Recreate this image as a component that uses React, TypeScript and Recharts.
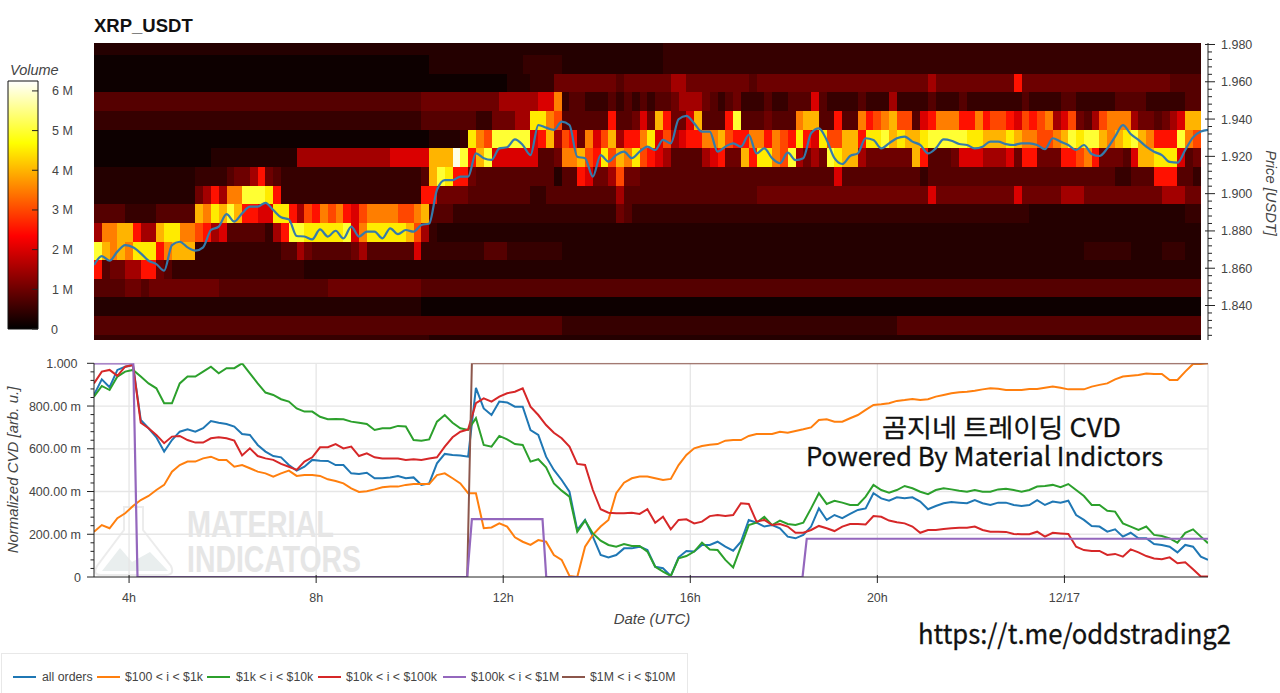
import {
  Bar,
  BarChart,
  CartesianGrid,
  ComposedChart,
  Line,
  ReferenceArea,
  XAxis,
  YAxis,
} from "recharts";

const FONT = '"Liberation Sans", Arial, sans-serif';
const CJK = '"Noto Sans CJK KR", "Noto Sans", sans-serif';

// one char per 10 minute bin, see volumeLevels (in millions)
const volumeLevels: Record<string, number> = {
  "0": 0.12, "1": 0.33, "2": 0.5, "3": 0.78, "4": 1.0, "5": 1.5, "6": 2.0,
  "7": 2.5, "8": 3.0, "9": 3.5, a: 4.0, b: 4.5, c: 5.0, d: 6.1,
};

// top row first
const heatRows = [
  "1111111111 1111111111 1111111111 1111111111 1111111111 1111111111 1111111111 1112222222 2222222222 2222222222 2222222222 2222222222 2222222222 2222222222 22",
  "0000000000 0000000000 0000000000 0000000000 0001111111 1111122222 1111111111 1112222222 2222222222 2222222222 2222222222 2222222222 2222222222 2222222222 22",
  "0000000000 0000000000 0000000000 0000000000 0000000000 0001112224 4444444344 4444554444 4444344444 4444444444 4444444544 4444444474 4444444444 4444444433 33",
  "3333333333 3333333333 3333333333 3333333333 3344444444 4455555669 2332223232 3233455543 2342223223 3363222232 2252222322 2322222223 2222332222 2333322222 33",
  "2222222222 2222222222 2222222222 2222222222 2233333332 244455bb98 3333337334 64a7446a33 37c3334333 9aa3373397 89a8836799 9779788768 7895684358 9995443456 aa",
  "0000000000 0000000000 0000000000 0000000000 00011112b9 8ccccc67a5 874968a577 9b68567799 a877997987 b76b88aa7b bcabaabccc ccbbaaaba9 9889acbcca 9abca9777c 98",
  "0000000000 0000011111 1111115555 5555555566 666aaadc7a c666666334 99a87b8a9b 8765333356 744a7bb98c 5454cbaa54 44444a7333 4666555647 7444778974 4436aabbb6 34",
  "1111111111 1112222344 5743222222 2222222222 223acb7743 3333333331 3376445844 3333333333 3333333333 3333363333 3333332333 3333333333 3333333333 3223337773 32",
  "1111111111 111457599c ccb7222222 2222222222 2277444433 3333332233 3333333533 3333333333 3333344444 4444444444 4444444644 4444444464 4444555444 4444444555 44",
  "3333222233 333a9baca7 766bb75879 8976899998 89a3332222 2222222222 2222222432 2222222222 2222222222 2222222222 2222222222 2222222222 1111111111 1111111111 22",
  "599aa755ab b998756333 33257ccbbb bbc69bbbbb a852111111 1111111111 1111111111 1111111111 1111111111 1111111111 1111111111 1111111111 1111111111 1111111111 11",
  "ca9a9bbb79 aaa2222222 2222335433 3334533333 3622222222 3332222222 1111111111 1111111111 1111111111 1111111111 1111111111 1111111111 1111111222 2221111222 11",
  "7344557743 2222222222 2222222111 1111111111 1111111111 1111111111 1111111111 1111111111 1111111111 1111111111 1111111111 1111111111 1111111111 1111111111 11",
  "3333443444 4444443333 3333333333 4444444444 4433333333 3333333333 3333333333 3333333333 3333333333 3333333333 3333333333 3333333333 3333333333 3333333333 33",
  "1111111111 1111111111 1111111111 1111111111 1100000000 0000000000 0000000000 0000000000 0000000000 0000000000 0000000000 0000000000 0000000000 0000000000 00",
  "3333333333 3333333333 3333333333 3333333333 3333333333 3333333333 2222222222 2222222222 2222222222 2222222222 2223333333 3333333333 3333333333 3333333333 33",
  "2222222222 2222222222 2222222222 2222222222 2221111111 1111111111 1111111111 1111111111 1111111111 1111111111 1111111111 1111111111 1111111111 1111111111 11",
];

// price bin edges, top to bottom
const rowEdges = [
  1.9808, 1.9743, 1.9643, 1.9543, 1.9443, 1.9343, 1.9243, 1.9143, 1.9043,
  1.8943, 1.8843, 1.8743, 1.8643, 1.8543, 1.8443, 1.8343, 1.8243, 1.8215,
];

const price = [
  1.8617, 1.8665, 1.864, 1.8689, 1.8724, 1.8712, 1.868, 1.864, 1.8622, 1.8587, 1.8724, 1.8742,
  1.8712, 1.8694, 1.8712, 1.8805, 1.8823, 1.889, 1.885, 1.8894, 1.893, 1.893, 1.8951, 1.8912,
  1.8873, 1.8862, 1.8773, 1.877, 1.8755, 1.8808, 1.877, 1.8801, 1.876, 1.8823, 1.877, 1.8796,
  1.8796, 1.876, 1.8814, 1.8783, 1.8805, 1.8796, 1.8832, 1.884, 1.902, 1.9073, 1.9073, 1.9091,
  1.9091, 1.9216, 1.919, 1.9181, 1.9243, 1.9249, 1.9291, 1.9261, 1.9207, 1.9368, 1.9354, 1.9342,
  1.9386, 1.9368, 1.9198, 1.919, 1.9091, 1.9207, 1.9172, 1.9207, 1.9225, 1.919, 1.9225, 1.9252,
  1.9234, 1.9288, 1.927, 1.9399, 1.9417, 1.9377, 1.9333, 1.9333, 1.9225, 1.9252, 1.927, 1.9252,
  1.9315, 1.9216, 1.9243, 1.919, 1.9163, 1.922, 1.918, 1.919, 1.9324, 1.935, 1.9288, 1.919,
  1.9159, 1.9202, 1.9216, 1.9297, 1.9288, 1.9243, 1.927, 1.9297, 1.9306, 1.9279, 1.9261, 1.9216,
  1.9243, 1.9291, 1.9284, 1.9266, 1.9261, 1.9243, 1.9252, 1.9279, 1.9279, 1.9266, 1.9261, 1.927,
  1.927, 1.9261, 1.9238, 1.9297, 1.9279, 1.9261, 1.9234, 1.9261, 1.9213, 1.9202, 1.9243, 1.9306,
  1.9368, 1.932, 1.9288, 1.9252, 1.9225, 1.9207, 1.917, 1.9166, 1.9234, 1.9302, 1.9333, 1.9342,
];

const allOrders = [
  0.852, 0.925, 0.888, 0.969, 0.984, 0.992, 0.735, 0.696, 0.654, 0.587, 0.641, 0.68, 0.691, 0.68, 0.696, 0.73,
  0.722, 0.716, 0.704, 0.669, 0.665, 0.618, 0.587, 0.566, 0.56, 0.524, 0.498, 0.516, 0.548, 0.544, 0.543, 0.524,
  0.524, 0.485, 0.482, 0.488, 0.462, 0.462, 0.466, 0.473, 0.462, 0.466, 0.431, 0.438,
  0.532, 0.576, 0.571, 0.569, 0.563, 0.885, 0.789, 0.758, 0.821, 0.817, 0.797, 0.797, 0.688, 0.665, 0.563, 0.501,
  0.454, 0.399, 0.22, 0.267, 0.189, 0.103, 0.092, 0.103, 0.134, 0.134, 0.142, 0.126, 0.048, 0.041, 0.005, 0.092,
  0.122, 0.119, 0.15, 0.15, 0.165, 0.142, 0.123, 0.165, 0.267, 0.254, 0.236, 0.243, 0.228, 0.189, 0.181, 0.197,
  0.236, 0.321, 0.267, 0.29, 0.275, 0.295,
  0.314, 0.321, 0.392, 0.368, 0.357, 0.373, 0.368, 0.373, 0.353, 0.317, 0.332, 0.345, 0.351, 0.348, 0.345, 0.36,
  0.345, 0.337, 0.348, 0.348, 0.337, 0.332, 0.337, 0.36, 0.337, 0.353, 0.348, 0.357, 0.29, 0.267, 0.239, 0.236,
  0.212, 0.223, 0.189, 0.207, 0.181, 0.181, 0.154, 0.15, 0.142, 0.115, 0.15, 0.142, 0.095, 0.08,
];

const tier100 = [
  0.212, 0.243, 0.228, 0.275, 0.298, 0.332, 0.36, 0.379, 0.407, 0.431, 0.493, 0.524, 0.54, 0.54, 0.555, 0.563,
  0.548, 0.548, 0.516, 0.524, 0.509, 0.493, 0.485, 0.47, 0.485, 0.498, 0.473, 0.477, 0.477, 0.473, 0.457, 0.449,
  0.438, 0.415, 0.398, 0.401, 0.41, 0.42, 0.423, 0.423, 0.431, 0.435, 0.435, 0.435,
  0.477, 0.485, 0.462, 0.438, 0.392, 0.392, 0.228, 0.232, 0.251, 0.236, 0.186, 0.165, 0.15, 0.173, 0.165, 0.103,
  0.08, 0.005, 0, 0.142, 0.197, 0.236, 0.267, 0.392, 0.441, 0.462, 0.47, 0.47, 0.462, 0.454, 0.459, 0.524,
  0.571, 0.602, 0.613, 0.619, 0.622, 0.638, 0.641, 0.641, 0.66, 0.669, 0.669, 0.669, 0.68, 0.675, 0.683, 0.691,
  0.7, 0.735, 0.738, 0.727, 0.727, 0.743,
  0.758, 0.782, 0.805, 0.808, 0.813, 0.824, 0.828, 0.833, 0.828, 0.832, 0.844, 0.852, 0.86, 0.864, 0.867, 0.872,
  0.878, 0.883, 0.881, 0.875, 0.875, 0.875, 0.88, 0.88, 0.886, 0.891, 0.886, 0.878, 0.878, 0.878, 0.891, 0.899,
  0.906, 0.925, 0.938, 0.942, 0.945, 0.952, 0.95, 0.95, 0.922, 0.922, 0.961, 0.997, 0.997, 1.0,
];

const tier1k = [
  0.844, 0.894, 0.875, 0.938, 0.961, 0.969, 0.938, 0.906, 0.883, 0.813, 0.813, 0.906, 0.938, 0.938, 0.961, 0.984,
  0.953, 0.977, 0.977, 1.0, 0.953, 0.906, 0.863, 0.852, 0.832, 0.821, 0.789, 0.774, 0.774, 0.75, 0.738, 0.739,
  0.738, 0.727, 0.722, 0.716, 0.688, 0.696, 0.696, 0.707, 0.704, 0.641, 0.638, 0.644,
  0.727, 0.758, 0.722, 0.696, 0.688, 0.743, 0.618, 0.61, 0.66, 0.644, 0.622, 0.618, 0.54, 0.551, 0.513, 0.438,
  0.404, 0.376, 0.212, 0.264, 0.204, 0.17, 0.15, 0.142, 0.154, 0.145, 0.145, 0.119, 0.048, 0.025, 0.005, 0.087,
  0.098, 0.119, 0.161, 0.129, 0.126, 0.08, 0.045, 0.142, 0.243, 0.254, 0.282, 0.243, 0.264, 0.248, 0.243, 0.254,
  0.321, 0.392, 0.342, 0.357, 0.348, 0.337,
  0.337, 0.376, 0.431, 0.407, 0.395, 0.407, 0.426, 0.415, 0.399, 0.388, 0.407, 0.415, 0.41, 0.404, 0.399, 0.407,
  0.399, 0.399, 0.41, 0.413, 0.407, 0.399, 0.407, 0.423, 0.426, 0.431, 0.42, 0.435, 0.407, 0.379, 0.337, 0.337,
  0.31, 0.306, 0.251, 0.236, 0.22, 0.236, 0.197, 0.192, 0.181, 0.161, 0.207, 0.223, 0.189, 0.158,
];

const tier10k = [
  0.906, 0.961, 0.969, 0.941, 0.984, 0.992, 0.722, 0.696, 0.665, 0.626, 0.657, 0.66, 0.641, 0.629, 0.629, 0.649,
  0.654, 0.649, 0.638, 0.569, 0.602, 0.566, 0.555, 0.548, 0.529, 0.516, 0.501, 0.54, 0.56, 0.607, 0.607, 0.622,
  0.602, 0.61, 0.566, 0.579, 0.56, 0.555, 0.555, 0.555, 0.548, 0.551, 0.548, 0.555,
  0.56, 0.61, 0.654, 0.68, 0.691, 0.813, 0.836, 0.821, 0.844, 0.86, 0.867, 0.883, 0.797, 0.758, 0.711, 0.675,
  0.649, 0.61, 0.529, 0.524, 0.407, 0.317, 0.301, 0.298, 0.298, 0.301, 0.295, 0.317, 0.254, 0.282, 0.223, 0.267,
  0.27, 0.251, 0.259, 0.285, 0.29, 0.285, 0.29, 0.345, 0.342, 0.259, 0.267, 0.243, 0.248, 0.236, 0.207, 0.207,
  0.22, 0.239, 0.228, 0.215, 0.236, 0.248,
  0.248, 0.246, 0.285, 0.282, 0.264, 0.256, 0.251, 0.236, 0.207, 0.22, 0.22, 0.225, 0.228, 0.231, 0.231, 0.236,
  0.22, 0.212, 0.212, 0.211, 0.201, 0.2, 0.2, 0.212, 0.189, 0.207, 0.204, 0.201, 0.142, 0.126, 0.122, 0.122,
  0.103, 0.108, 0.095, 0.129, 0.115, 0.098, 0.087, 0.083, 0.092, 0.064, 0.069, 0.036, 0.002, 0.002,
];

// these two are plain steps, so they only need their corners
const tier100k = [
  { t: 3.25, v: 1 }, { t: 4.09, v: 1 }, { t: 4.18, v: 0 }, { t: 11.23, v: 0 }, { t: 11.33, v: 0.271 },
  { t: 12.84, v: 0.271 }, { t: 12.92, v: 0 }, { t: 18.4, v: 0 }, { t: 18.49, v: 0.179 }, { t: 27.07, v: 0.179 },
];
const tier1m = [
  { t: 11.23, v: 0 }, { t: 11.33, v: 1 }, { t: 27.07, v: 1 },
];

const legendItems = [
  { label: "all orders", color: "#1f77b4", swatch: 13, text: 42 },
  { label: "$100 < i < $1k", color: "#ff7f0e", swatch: 97, text: 125 },
  { label: "$1k < i < $10k", color: "#2ca02c", swatch: 207, text: 236 },
  { label: "$10k < i < $100k", color: "#d62728", swatch: 318, text: 346 },
  { label: "$100k < i < $1M", color: "#9467bd", swatch: 443, text: 471 },
  { label: "$1M < i < $10M", color: "#8c564b", swatch: 562, text: 590 },
];

const START = 3.25;
const END = 27.07;
const BIN = 1 / 6;

const hours = allOrders.map((_, k) => Math.min(START + k * BIN, END));
const cvdData = hours.map((t, k) => ({
  t,
  all: allOrders[k],
  a: tier100[k],
  b: tier1k[k],
  c: tier10k[k],
}));
const priceData = price.map((p, k) => ({ t: hours[k], p }));

const priceTicks: number[] = [];
for (let i = 0; i <= 39; i++) priceTicks.push(Math.round((1.824 + i * 0.004) * 1000) / 1000);
const cvdTicks: number[] = [];
for (let i = 0; i <= 25; i++) cvdTicks.push(Math.round(i * 40) / 1000);
const volumeTicks = [0, 1, 2, 3, 4, 5, 6];
const timeTicks = [4, 8, 12, 16, 20, 24];

// black -> red -> yellow -> white
function hot(volume: number) {
  const f = Math.max(0, Math.min(1, volume / 6.25));
  const r = Math.round(255 * Math.min(1, f / 0.375));
  const g = Math.round(255 * Math.max(0, Math.min(1, (f - 0.375) / 0.375)));
  const b = Math.round(255 * Math.max(0, Math.min(1, (f - 0.75) / 0.25)));
  return `rgb(${r},${g},${b})`;
}

function PriceTick({ y, payload }: any) {
  const v = payload.value;
  const major = Math.round(v * 1000) % 20 === 0;
  return (
    <g>
      <line x1={major ? 1205 : 1208} x2={major ? 1215 : 1212} y1={y} y2={y} stroke="#222" strokeWidth={1} />
      {major && (
        <text x={1221} y={y + 4.5} fontSize={12.5} fill="#444" fontFamily={FONT}>
          {v.toFixed(3)}
        </text>
      )}
    </g>
  );
}

function CvdTick({ y, payload }: any) {
  const v = payload.value;
  const major = Math.round(v * 1000) % 200 === 0;
  let label = `${Math.round(v * 1000)}.00 m`;
  if (v === 0) label = "0";
  if (v === 1) label = "1.000";
  return (
    <g>
      <line x1={major ? 87 : 90.5} x2={94} y1={y} y2={y} stroke="#222" strokeWidth={1} />
      {major && (
        <text x={v === 1 ? 77.5 : 81} y={y + 4.5} fontSize={12.5} fill="#444" textAnchor="end" fontFamily={FONT}>
          {label}
        </text>
      )}
    </g>
  );
}

function TimeTick({ x, payload }: any) {
  const v = payload.value;
  return (
    <g>
      <line x1={x} x2={x} y1={225} y2={233} stroke="#222" strokeWidth={1} />
      <text x={x} y={252} fontSize={12.5} fill="#444" textAnchor="middle" fontFamily={FONT}>
        {v === 24 ? "12/17" : `${v}h`}
      </text>
    </g>
  );
}

function VolumeTick({ y, payload }: any) {
  const v = payload.value;
  return (
    <g>
      <line x1={32} x2={38} y1={y} y2={y} stroke="#222" strokeWidth={1} />
      <text x={v === 0 ? 51 : 52} y={y + 4.5} fontSize={12.5} fill="#444" fontFamily={FONT}>
        {v === 0 ? "0" : `${v} M`}
      </text>
    </g>
  );
}

function CellRect({ x, y, width, height, fill }: any) {
  return <rect x={x} y={y} width={width} height={height} fill={fill} shapeRendering="crispEdges" />;
}

function HeatCells() {
  return heatRows.flatMap((raw, r) =>
    raw
      .replace(/ /g, "")
      .split("")
      .map((level, k) => (
        <ReferenceArea
          key={`${r}-${k}`}
          x1={START + k * BIN}
          x2={START + (k + 1) * BIN}
          y1={rowEdges[r + 1]}
          y2={rowEdges[r]}
          fill={hot(volumeLevels[level])}
          fillOpacity={1}
          shape={CellRect}
        />
      ))
  );
}

export default function App() {
  return (
    <div
      style={{
        position: "absolute",
        left: 0,
        top: 0,
        width: 1280,
        height: 693,
        background: "#fff",
        overflow: "hidden",
        fontFamily: FONT,
      }}
    >
      {/* watermark sits under the cvd lines */}
      <svg width={1280} height={693} style={{ position: "absolute", left: 0, top: 0 }}>
        <path
          d="M124 507 L143 507 L143 530 L171 566 Q175 575 166 575 L101 575 Q92 575 97 566 L124 530 Z"
          fill="none"
          stroke="#ececec"
          strokeWidth={2}
        />
        <path d="M102 571 L120 548 L132 562 L150 552 L168 571 Z" fill="#e9eeee" />
        <text x={187} y={537} fontSize={36} fontWeight="bold" fill="#e6e6e6" fontFamily={FONT} textLength={147} lengthAdjust="spacingAndGlyphs">
          MATERIAL
        </text>
        <text x={187} y={572} fontSize={36} fontWeight="bold" fill="#e6e6e6" fontFamily={FONT} textLength={174} lengthAdjust="spacingAndGlyphs">
          INDICATORS
        </text>
      </svg>

      <div style={{ position: "absolute", left: 0, top: 0 }}>
        <ComposedChart width={1280} height={350} data={priceData} margin={{ top: 43, right: 0, bottom: 10, left: 94 }}>
          <XAxis dataKey="t" type="number" domain={[START, END]} hide allowDataOverflow />
          <YAxis
            orientation="right"
            type="number"
            width={72}
            domain={[1.8215, 1.9808]}
            allowDataOverflow
            ticks={priceTicks}
            interval={0}
            tick={PriceTick}
            tickLine={false}
            axisLine={{ stroke: "#222" }}
          />
          {HeatCells()}
          <Line type="monotone" dataKey="p" stroke="#347bab" strokeWidth={2.2} dot={false} isAnimationActive={false} />
        </ComposedChart>
      </div>

      <div style={{ position: "absolute", left: 0, top: 0 }}>
        <BarChart
          width={94}
          height={340}
          data={[{ name: "volume", max: 6.25 }]}
          margin={{ top: 81, right: 0, bottom: 11, left: 8 }}
          barCategoryGap={0}
        >
          <defs>
            <linearGradient id="hotBar" x1="0" y1="0" x2="0" y2="1">
              <stop offset="0" stopColor="#ffffff" />
              <stop offset="0.25" stopColor="#ffff00" />
              <stop offset="0.625" stopColor="#ff0000" />
              <stop offset="1" stopColor="#000000" />
            </linearGradient>
          </defs>
          <XAxis dataKey="name" hide />
          <YAxis
            orientation="right"
            type="number"
            width={56}
            domain={[0, 6.25]}
            ticks={volumeTicks}
            interval={0}
            tick={VolumeTick}
            tickLine={false}
            axisLine={false}
          />
          <Bar dataKey="max" fill="url(#hotBar)" stroke="#111" strokeWidth={1} isAnimationActive={false} />
        </BarChart>
      </div>

      <div style={{ position: "absolute", left: 0, top: 350 }}>
        <ComposedChart width={1280} height={290} data={cvdData} margin={{ top: 13.3, right: 72, bottom: 33, left: 0 }}>
          <CartesianGrid
            stroke="#e6e6e6"
            strokeWidth={1.3}
            horizontalValues={[0.2, 0.4, 0.6, 0.8, 1]}
            verticalValues={[4, 8, 12, 16, 20, 24, END]}
          />
          <XAxis
            dataKey="t"
            type="number"
            domain={[START, END]}
            allowDataOverflow
            ticks={timeTicks}
            interval={0}
            height={30}
            tick={TimeTick}
            tickLine={false}
            axisLine={{ stroke: "#222" }}
          />
          <YAxis
            type="number"
            width={94}
            domain={[0, 1]}
            allowDataOverflow
            ticks={cvdTicks}
            interval={0}
            tick={CvdTick}
            tickLine={false}
            axisLine={{ stroke: "#222" }}
          />
          <Line dataKey="all" stroke="#1f77b4" strokeWidth={2} dot={false} isAnimationActive={false} />
          <Line dataKey="a" stroke="#ff7f0e" strokeWidth={2} dot={false} isAnimationActive={false} />
          <Line dataKey="b" stroke="#2ca02c" strokeWidth={2} dot={false} isAnimationActive={false} />
          <Line dataKey="c" stroke="#d62728" strokeWidth={2} dot={false} isAnimationActive={false} />
          <Line data={tier1m} dataKey="v" stroke="#8c564b" strokeWidth={2} dot={false} isAnimationActive={false} />
          <Line data={tier100k} dataKey="v" stroke="#9467bd" strokeWidth={2.2} dot={false} isAnimationActive={false} />
        </ComposedChart>
      </div>

      <svg width={1280} height={693} style={{ position: "absolute", left: 0, top: 0, pointerEvents: "none" }}>
        <text x={94} y={32} fontSize={18.5} fontWeight="bold" fill="#111" fontFamily={FONT}>
          XRP_USDT
        </text>
        <text x={10} y={75} fontSize={14.5} fontStyle="italic" fill="#444" fontFamily={FONT}>
          Volume
        </text>
        <text
          transform="translate(1266 193) rotate(90)"
          fontSize={14.7}
          fontStyle="italic"
          fill="#444"
          textAnchor="middle"
          fontFamily={FONT}
        >
          Price [USDT]
        </text>
        <text
          transform="translate(18 470) rotate(-90)"
          fontSize={15}
          fontStyle="italic"
          fill="#444"
          textAnchor="middle"
          fontFamily={FONT}
        >
          Normalized CVD [arb. u.]
        </text>
        <text x={652} y={624} fontSize={15} fontStyle="italic" fill="#444" textAnchor="middle" fontFamily={FONT}>
          Date (UTC)
        </text>
        <text x={882} y={437} fontSize={25} fill="#111" stroke="#111" strokeWidth={0.3} fontFamily={CJK} textLength={239} lengthAdjust="spacingAndGlyphs">
          곰지네 트레이딩 CVD
        </text>
        <text x={806} y={466} fontSize={26} fill="#111" stroke="#111" strokeWidth={0.3} fontFamily={CJK} textLength={357} lengthAdjust="spacingAndGlyphs">
          Powered By Material Indictors
        </text>
        <text x={918} y={644} fontSize={27} fill="#111" stroke="#111" strokeWidth={0.3} fontFamily={CJK} textLength={313} lengthAdjust="spacingAndGlyphs">
          https://t.me/oddstrading2
        </text>
      </svg>

      <div
        style={{
          position: "absolute",
          left: 1,
          top: 653,
          width: 687,
          height: 45,
          border: "1px solid #e8e8e8",
          boxSizing: "border-box",
        }}
      />
      {legendItems.map((item) => (
        <div key={item.label}>
          <div
            style={{
              position: "absolute",
              left: item.swatch,
              top: 675.5,
              width: 23,
              height: 2,
              background: item.color,
            }}
          />
          <div
            style={{
              position: "absolute",
              left: item.text,
              top: 669.5,
              fontSize: 12.3,
              lineHeight: "14px",
              color: "#444",
              whiteSpace: "pre",
            }}
          >
            {item.label}
          </div>
        </div>
      ))}
    </div>
  );
}
